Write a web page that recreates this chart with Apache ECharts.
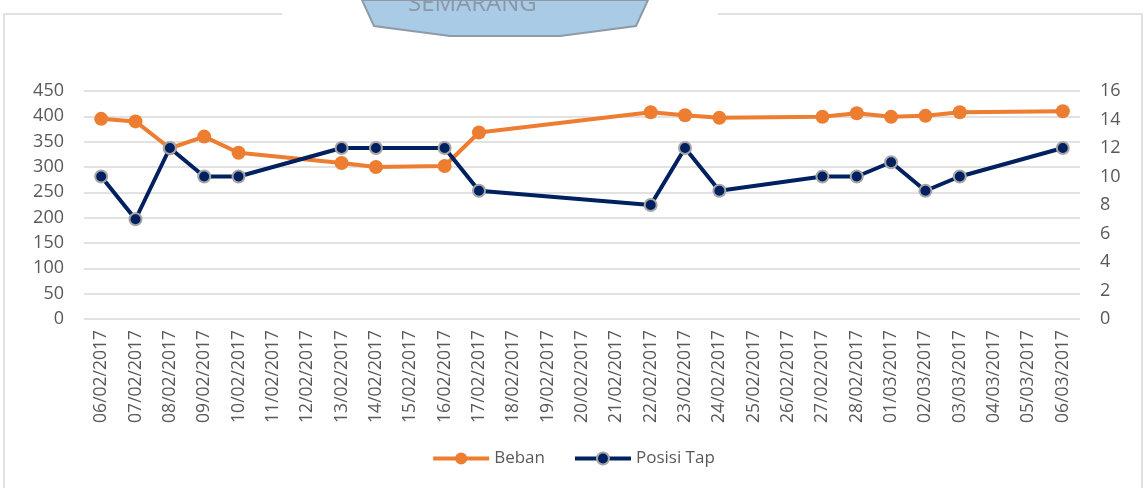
<!DOCTYPE html>
<html>
<head>
<meta charset="utf-8">
<script src="https://cdn.jsdelivr.net/npm/echarts@6/dist/echarts.min.js"></script>
<style>
  html, body { margin: 0; padding: 0; background: #fff; }
  #main { width: 1146px; height: 488px; }
</style>
</head>
<body>
<div id="main"></div>
<script>
// tanggal (kategori sumbu x)
var dates = ['06/02/2017', '07/02/2017', '08/02/2017', '09/02/2017', '10/02/2017', '11/02/2017',
  '12/02/2017', '13/02/2017', '14/02/2017', '15/02/2017', '16/02/2017', '17/02/2017', '18/02/2017',
  '19/02/2017', '20/02/2017', '21/02/2017', '22/02/2017', '23/02/2017', '24/02/2017', '25/02/2017',
  '26/02/2017', '27/02/2017', '28/02/2017', '01/03/2017', '02/03/2017', '03/03/2017', '04/03/2017',
  '05/03/2017', '06/03/2017']
// beban (sumbu kiri), null = tidak ada data
var beban = [395, 390, 337, 360, 328, null, null, 308, 300, null, 302, 368, null, null, null, null,
  408, 402, 397, null, null, 399, 406, 399, 401, 408, null, null, 410]
// posisi tap (sumbu kanan)
var posisiTap = [10, 7, 12, 10, 10, null, null, 12, 12, null, 12, 9, null, null, null, null,
  8, 12, 9, null, null, 10, 10, 11, 9, 10, null, null, 12]

var leftTicks = [0, 450, 50]
var rightTicks = [0, 16, 2]

var myChart = echarts.init(document.getElementById('main'))
var labelColor = '#595959'
var font = '"Open Sans", Lato, sans-serif'
var option = {
  animation: false,
  // bingkai dan logo samar di atas
  graphic: [
    {
      type: 'rect', shape: { x: 4, y: 14, width: 1138, height: 480 },
      style: { fill: 'none', stroke: '#d9d9d9', lineWidth: 1.5 }, z: -10
    },
    {
      type: 'rect', shape: { x: 282, y: 0, width: 436, height: 40 },
      style: { fill: '#fff' }, z: -5
    },
    {
      type: 'polygon',
      shape: { points: [[362, 0], [648, 0], [636, 26], [560, 36], [450, 36], [374, 26]] },
      style: { fill: '#a9cbe6', stroke: '#8f9aa6', lineWidth: 2 }, z: -4
    },
    {
      type: 'text', left: 408, top: -8,
      style: { text: 'SEMARANG', fill: '#8a98a8', font: '24px ' + font }, z: -3
    }
  ],
  grid: { left: 84, right: 66, top: 91, bottom: 169, containLabel: false },
  legend: {
    bottom: 16,
    left: 'center',
    itemWidth: 56,
    itemHeight: 15,
    itemGap: 28,
    itemStyle: { borderWidth: 2 },
    lineStyle: { width: 4 },
    textStyle: { color: labelColor, fontSize: 17, fontFamily: font },
    data: ['Beban', 'Posisi Tap']
  },
  xAxis: {
    type: 'category',
    data: dates,
    boundaryGap: true,
    axisLine: { show: false },
    axisTick: { show: false },
    axisLabel: { rotate: 90, interval: 0, color: labelColor, fontSize: 17.5, fontFamily: font, margin: 11 }
  },
  yAxis: [
    {
      type: 'value',
      min: leftTicks[0], max: leftTicks[1], interval: leftTicks[2],
      axisLine: { show: false },
      axisTick: { show: false },
      axisLabel: { color: labelColor, fontSize: 18, fontFamily: font, margin: 20 },
      splitLine: { lineStyle: { color: '#d9d9d9', width: 1.5 } }
    },
    {
      type: 'value',
      min: rightTicks[0], max: rightTicks[1], interval: rightTicks[2],
      position: 'right',
      axisLine: { show: false },
      axisTick: { show: false },
      axisLabel: { color: labelColor, fontSize: 18, fontFamily: font, margin: 20 },
      splitLine: { show: false }
    }
  ],
  series: [
    {
      name: 'Beban',
      type: 'line',
      yAxisIndex: 0,
      data: beban,
      connectNulls: true,
      symbol: 'circle',
      symbolSize: 14,
      lineStyle: { color: '#ED7D31', width: 4 },
      itemStyle: { color: '#ED7D31' },
      z: 2
    },
    {
      name: 'Posisi Tap',
      type: 'line',
      yAxisIndex: 1,
      data: posisiTap,
      connectNulls: true,
      symbol: 'circle',
      symbolSize: 12,
      lineStyle: { color: '#002060', width: 4 },
      itemStyle: { color: '#002060', borderColor: '#a6a6a6', borderWidth: 2 },
      z: 3
    }
  ]
}
myChart.setOption(option)
</script>
</body>
</html>
